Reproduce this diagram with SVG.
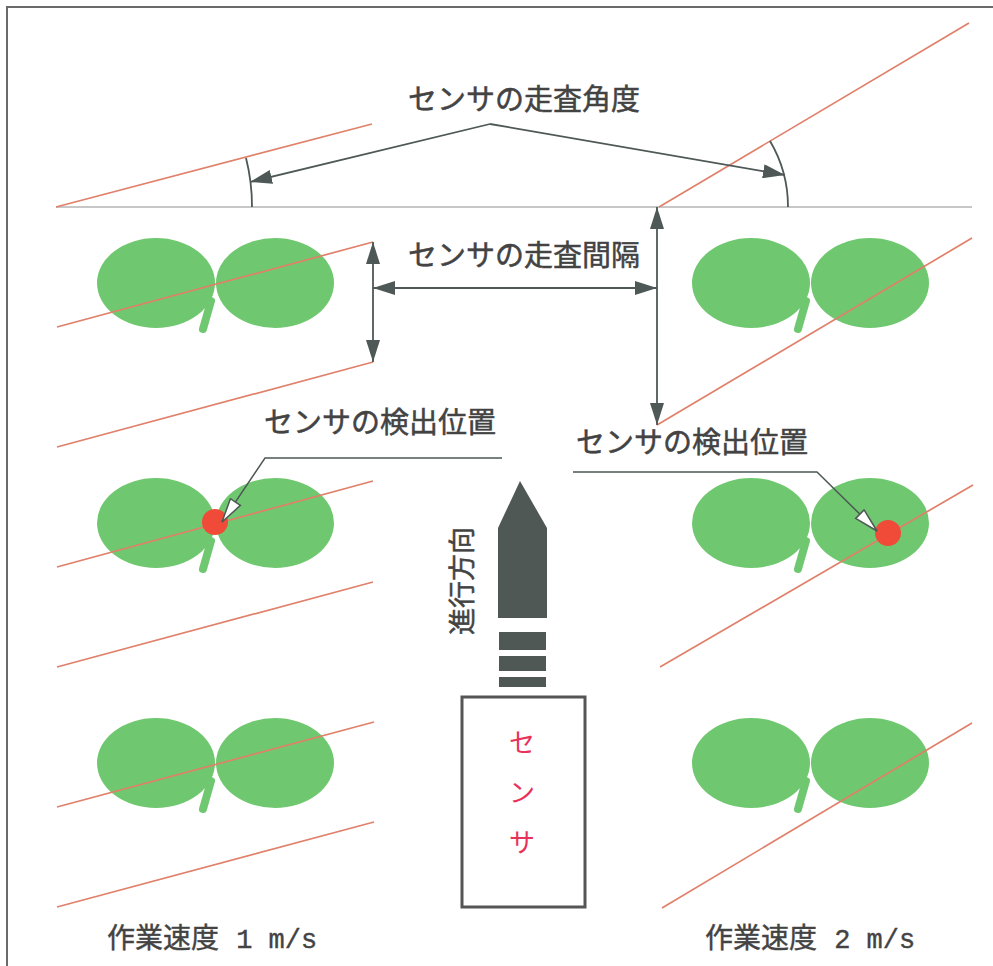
<svg xmlns="http://www.w3.org/2000/svg" width="993" height="966" viewBox="0 0 993 966">
  <defs>
    <style>
      .frame { fill: none; stroke: #6a6a6a; stroke-width: 2; }
      .ground { stroke: #b4b4b4; stroke-width: 1.5; }
      .scan { stroke: #e0806a; stroke-width: 1.7; fill: none; }
      .leaf { fill: #6fc870; }
      .stem { stroke: #6fc870; stroke-width: 8; stroke-linecap: round; }
      .dot { fill: #f04a38; }
      .dim { stroke: #4e5856; stroke-width: 1.8; fill: none; }
      .leader { stroke: #4e5856; stroke-width: 1.5; fill: none; }
      .lbl { font-family: "Noto Sans CJK JP", "Noto Sans", sans-serif; font-size: 29px; fill: #434343; stroke: #434343; stroke-width: 0.5; }
      .speed { font-family: "Noto Sans CJK JP", sans-serif; font-size: 28px; fill: #434343; stroke: #434343; stroke-width: 0.4; }
      .mono { font-family: "Liberation Mono", monospace; font-size: 27px; }
      .body { fill: #4f5855; }
      .sensorbox { fill: #fff; stroke: #555; stroke-width: 3; }
      .sensortxt { font-family: "Noto Sans CJK JP", sans-serif; font-size: 26px; fill: #e8325a; text-anchor: middle; }
    </style>
    <marker id="solid" viewBox="0 0 22 14" refX="22" refY="7" markerWidth="22" markerHeight="14" markerUnits="userSpaceOnUse" orient="auto-start-reverse">
      <path d="M0,0 L22,7 L0,14 Z" fill="#4e5856"/>
    </marker>
    <marker id="open" viewBox="0 0 26 14" refX="25" refY="7" markerWidth="26" markerHeight="14" markerUnits="userSpaceOnUse" orient="auto">
      <path d="M1,1 L25,7 L1,13 Z" fill="#fff" stroke="#4e5856" stroke-width="1.5"/>
    </marker>
    <g id="plant">
      <line x1="-4" y1="18" x2="-12" y2="46" class="stem"/>
      <ellipse cx="-59" cy="0" rx="59" ry="45" class="leaf"/>
      <ellipse cx="60" cy="0" rx="59" ry="45" class="leaf"/>
    </g>
  </defs>

  <!-- outer frame (top and left edges) -->
  <path class="frame" d="M7,966 L7,7 L993,7"/>

  <!-- reference line for the scan angle -->
  <line class="ground" x1="56" y1="207" x2="972" y2="207"/>

  <!-- plants, 1 m/s column -->
  <g id="plant-l1"><use href="#plant" x="215" y="283"/></g>
  <g id="plant-l2"><use href="#plant" x="215" y="523"/></g>
  <g id="plant-l3"><use href="#plant" x="215" y="763"/></g>
  <!-- plants, 2 m/s column -->
  <g id="plant-r1"><use href="#plant" x="810" y="283"/></g>
  <g id="plant-r2"><use href="#plant" x="810" y="523"/></g>
  <g id="plant-r3"><use href="#plant" x="810" y="763"/></g>

  <!-- scan traces -->
  <g id="scans">
    <line class="scan" x1="56" y1="207" x2="372" y2="124"/>
    <line class="scan" x1="57" y1="327" x2="373" y2="242"/>
    <line class="scan" x1="57" y1="447" x2="373" y2="362"/>
    <line class="scan" x1="57" y1="567" x2="373" y2="481"/>
    <line class="scan" x1="57" y1="667" x2="373" y2="582"/>
    <line class="scan" x1="57" y1="807" x2="374" y2="722"/>
    <line class="scan" x1="57" y1="907" x2="374" y2="822"/>

    <line class="scan" x1="659" y1="207" x2="969" y2="23"/>
    <line class="scan" x1="657" y1="425" x2="972" y2="238"/>
    <line class="scan" x1="660" y1="667" x2="973" y2="485"/>
    <line class="scan" x1="662" y1="908" x2="972" y2="723"/>
  </g>

  <!-- detection points -->
  <g id="detect-l"><circle class="dot" cx="215" cy="522" r="13"/></g>
  <g id="detect-r"><circle class="dot" cx="888" cy="533" r="13"/></g>

  <!-- dimension arrows and leaders -->
  <g id="connectors">
    <path class="dim" d="M246,158 A196,196 0 0 1 252,207"/>
    <path class="dim" d="M770,141 A129,129 0 0 1 788,207"/>
    <path class="dim" d="M490,124 L250,182" marker-end="url(#solid)"/>
    <path class="dim" d="M490,124 L785,175" marker-end="url(#solid)"/>

    <line class="dim" x1="373" y1="242" x2="373" y2="362" marker-start="url(#solid)" marker-end="url(#solid)"/>
    <line class="dim" x1="657" y1="207" x2="657" y2="425" marker-start="url(#solid)" marker-end="url(#solid)"/>
    <line class="dim" x1="373" y1="288" x2="657" y2="288" marker-start="url(#solid)" marker-end="url(#solid)"/>

    <path class="leader" d="M502,458 L265,458 L222,522" marker-end="url(#open)"/>
    <path class="leader" d="M573,472 L817,472 L877,531" marker-end="url(#open)"/>
  </g>

  <!-- labels -->
  <g id="labels">
    <text class="lbl" x="524" y="110" text-anchor="middle">センサの走査角度</text>
    <text class="lbl" x="524" y="266" text-anchor="middle">センサの走査間隔</text>
    <text class="lbl" x="380" y="433" text-anchor="middle">センサの検出位置</text>
    <text class="lbl" x="692" y="453" text-anchor="middle">センサの検出位置</text>
    <text class="speed" x="107" y="948">作業速度<tspan class="mono" x="220"> 1 m/s</tspan></text>
    <text class="speed" x="705" y="948">作業速度<tspan class="mono" x="818"> 2 m/s</tspan></text>
  </g>

  <!-- travel direction arrow -->
  <g id="direction">
    <path class="body" d="M520,481 L547,528 L547,618 L498,618 L498,528 Z"/>
    <rect class="body" x="499" y="632" width="47" height="18"/>
    <rect class="body" x="499" y="656" width="47" height="15"/>
    <rect class="body" x="499" y="677" width="47" height="10"/>
    <text class="lbl" transform="translate(462,581) rotate(-90)" x="0" y="10" text-anchor="middle" style="font-size: 27px;">進行方向</text>
  </g>

  <!-- sensor unit -->
  <g id="sensor">
    <rect class="sensorbox" x="462" y="697" width="123" height="210"/>
    <text class="sensortxt" x="522" y="752">セ<tspan x="522" y="802">ン</tspan><tspan x="522" y="852">サ</tspan></text>
  </g>
</svg>
